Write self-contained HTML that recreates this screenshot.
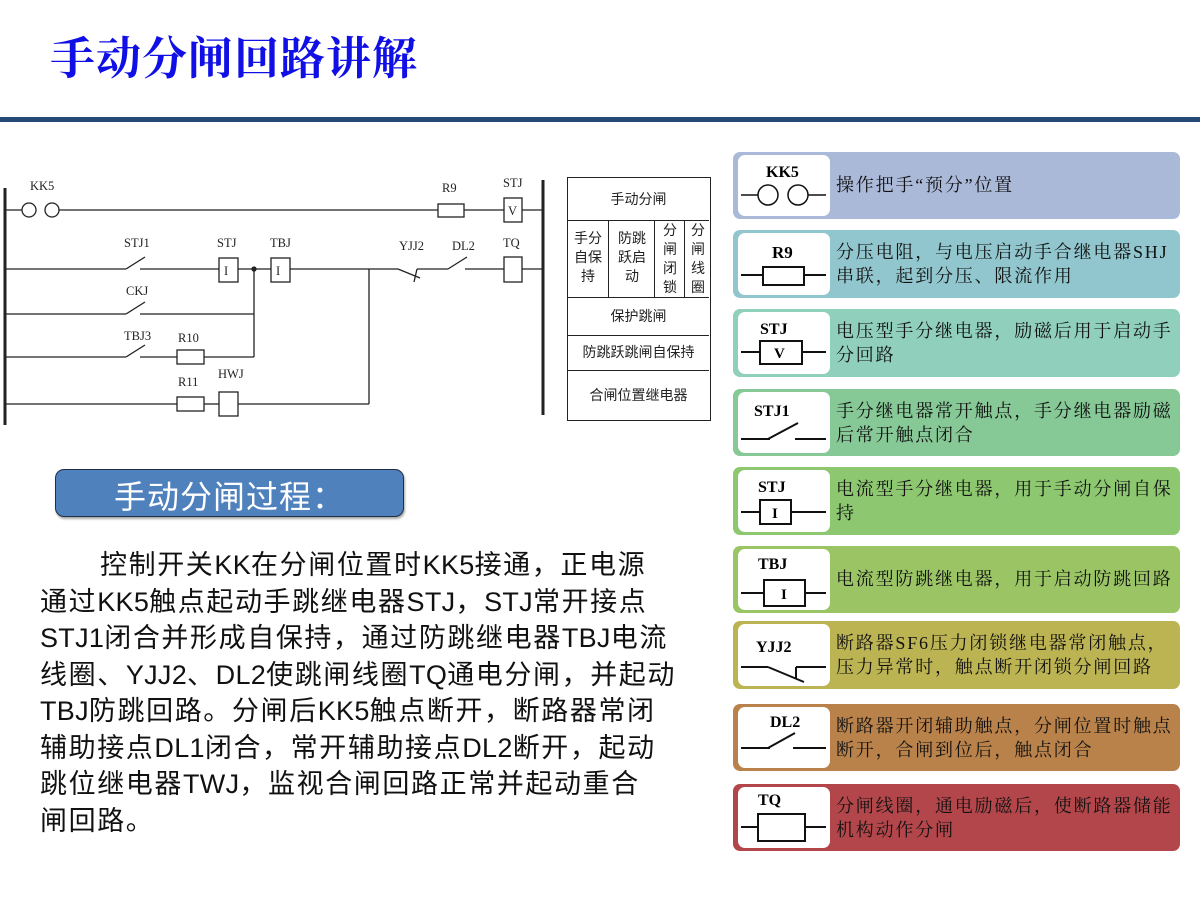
<!DOCTYPE html>
<html><head><meta charset="utf-8">
<style>
body{margin:0;width:1200px;height:900px;background:#fff;position:relative;overflow:hidden;font-family:"Liberation Sans","Noto Sans CJK SC",sans-serif}
.abs{position:absolute}
.title{left:50px;top:22px;font-family:"Liberation Serif","Noto Serif CJK SC",serif;font-size:45px;font-weight:bold;color:#1010e6;letter-spacing:1px;white-space:nowrap}
.bar{left:0;top:117px;width:1200px;height:5px;background:#254a78}
.btn{left:55px;top:469px;width:347px;height:46px;background:#4f81bd;border:1.5px solid #1f2f4a;border-radius:9px;box-shadow:1px 2px 2px rgba(0,0,0,.35)}
.btn span{position:absolute;left:58px;top:2px;font-size:32px;color:#fff;white-space:nowrap;letter-spacing:1px}
.body{left:40px;top:547px;font-size:27px;letter-spacing:1.6px;line-height:36.5px;color:#111;white-space:nowrap}
.body i{font-style:normal;letter-spacing:0.3px}
.card{position:absolute;left:733px;width:447px;border-radius:7px}
.card .ic{position:absolute;left:5px;top:3px;width:92px;bottom:3px;background:#fff;border-radius:7px}
.card .tx{position:absolute;left:103px;font-size:18px;letter-spacing:1.8px;line-height:24px;color:#111;white-space:nowrap;font-family:"Liberation Serif","Noto Serif CJK SC",serif}
.tbl{left:567px;top:177px;width:144px;height:244px;border:1.5px solid #222;box-sizing:border-box;font-size:14px;color:#222}
.tbl div{position:absolute;text-align:center}
</style></head><body>
<div class="abs title">手动分闸回路讲解</div>
<div class="abs bar"></div>

<svg class="abs" style="left:0;top:160px" width="560" height="270" viewBox="0 160 560 270">
<g stroke="#222" stroke-width="1.3" fill="none">
<line x1="5" y1="188" x2="5" y2="425" stroke-width="3"/>
<line x1="543" y1="180" x2="543" y2="415" stroke-width="3"/>
<line x1="5" y1="210" x2="22" y2="210"/><circle cx="29" cy="210" r="7"/><circle cx="52" cy="210" r="7"/>
<line x1="59" y1="210" x2="438" y2="210"/><rect x="438" y="204" width="26" height="13"/>
<line x1="464" y1="210" x2="504" y2="210"/><rect x="504" y="198" width="18" height="24"/><line x1="522" y1="210" x2="543" y2="210"/>
<line x1="5" y1="269" x2="126" y2="269"/><line x1="126" y1="269" x2="145" y2="257"/><line x1="140" y1="269" x2="161" y2="269"/>
<line x1="161" y1="269" x2="219" y2="269"/><rect x="219" y="258" width="19" height="24"/>
<line x1="238" y1="269" x2="271" y2="269"/><rect x="271" y="258" width="19" height="24"/>
<line x1="290" y1="269" x2="398" y2="269"/><line x1="398" y1="269" x2="420" y2="278"/><line x1="417" y1="269" x2="414" y2="282"/>
<line x1="417" y1="269" x2="448" y2="269"/><line x1="448" y1="269" x2="467" y2="257"/><line x1="465" y1="269" x2="485" y2="269"/>
<line x1="485" y1="269" x2="504" y2="269"/><rect x="504" y="257" width="18" height="25"/><line x1="522" y1="269" x2="543" y2="269"/>
<circle cx="254" cy="269" r="2" fill="#222"/>
<line x1="254" y1="269" x2="254" y2="357"/>
<line x1="369" y1="269" x2="369" y2="404"/>
<line x1="5" y1="314" x2="126" y2="314"/><line x1="126" y1="314" x2="145" y2="302"/><line x1="140" y1="314" x2="254" y2="314"/>
<line x1="5" y1="357" x2="126" y2="357"/><line x1="126" y1="357" x2="145" y2="345"/><line x1="140" y1="357" x2="177" y2="357"/>
<rect x="177" y="350" width="27" height="14"/><line x1="204" y1="357" x2="254" y2="357"/>
<line x1="5" y1="404" x2="177" y2="404"/><rect x="177" y="397" width="27" height="14"/><line x1="204" y1="404" x2="219" y2="404"/>
<rect x="219" y="392" width="19" height="24"/><line x1="238" y1="404" x2="369" y2="404"/>
</g>
<g font-family="Liberation Serif,serif" font-size="12.5" fill="#222">
<text x="30" y="190">KK5</text><text x="442" y="192">R9</text><text x="503" y="187">STJ</text>
<text x="124" y="247">STJ1</text><text x="217" y="247">STJ</text><text x="270" y="247">TBJ</text>
<text x="399" y="250">YJJ2</text><text x="452" y="250">DL2</text><text x="503" y="247">TQ</text>
<text x="126" y="295">CKJ</text><text x="124" y="340">TBJ3</text><text x="178" y="342">R10</text>
<text x="178" y="386">R11</text><text x="218" y="378">HWJ</text>
<text x="224" y="275">I</text><text x="276" y="275">I</text><text x="508" y="215">V</text>
</g>
</svg>

<div class="abs tbl">
<div style="left:0;top:0;width:141px;height:42px;line-height:42px;border-bottom:1.5px solid #222">手动分闸</div>
<div style="left:0;top:43px;width:41px;height:76px;border-right:1.5px solid #222;line-height:19px;padding-top:8px;box-sizing:border-box">手分<br>自保<br>持</div>
<div style="left:42px;top:43px;width:45px;height:76px;border-right:1.5px solid #222;line-height:19px;padding-top:8px;box-sizing:border-box">防跳<br>跃启<br>动</div>
<div style="left:88px;top:43px;width:29px;height:76px;border-right:1.5px solid #222;line-height:19px;box-sizing:border-box">分<br>闸<br>闭<br>锁</div>
<div style="left:118px;top:43px;width:24px;height:76px;line-height:19px">分<br>闸<br>线<br>圈</div>
<div style="left:0;top:119px;width:141px;height:37px;line-height:37px;border-top:1.5px solid #222;border-bottom:1.5px solid #222">保护跳闸</div>
<div style="left:0;top:157px;width:141px;height:35px;line-height:35px;border-bottom:1.5px solid #222">防跳跃跳闸自保持</div>
<div style="left:0;top:193px;width:141px;height:49px;line-height:49px">合闸位置继电器</div>
</div>

<div class="abs btn"><span>手动分闸过程：</span></div>
<div class="abs body"><span style="padding-left:60px"></span>控制开关<i>KK</i>在分闸位置时<i>KK5</i>接通，正电源<br>通过<i>KK5</i>触点起动手跳继电器<i>STJ</i>，<i>STJ</i>常开接点<br><i>STJ1</i>闭合并形成自保持，通过防跳继电器<i>TBJ</i>电流<br>线圈、<i>YJJ2</i>、<i>DL2</i>使跳闸线圈<i>TQ</i>通电分闸，并起动<br><i>TBJ</i>防跳回路。分闸后<i>KK5</i>触点断开，断路器常闭<br>辅助接点<i>DL1</i>闭合，常开辅助接点<i>DL2</i>断开，起动<br>跳位继电器<i>TWJ</i>，监视合闸回路正常并起动重合<br>闸回路。</div>

<div class="card" style="top:152px;height:67px;background:#abb9d9"><div class="ic"><svg width="92" height="61"><text x="28" y="22" font-family="Liberation Serif,serif" font-weight="bold" font-size="16">KK5</text><g stroke="#111" stroke-width="1.5" fill="none"><line x1="3" y1="40" x2="20" y2="40"/><circle cx="30" cy="40" r="10"/><circle cx="60" cy="40" r="10"/><line x1="70" y1="40" x2="88" y2="40"/></g></svg></div><div class="tx" style="top:21px">操作把手“预分”位置</div></div>

<div class="card" style="top:230px;height:68px;background:#92c6ce"><div class="ic"><svg width="92" height="62"><text x="34" y="25" font-family="Liberation Serif,serif" font-weight="bold" font-size="17">R9</text><g stroke="#111" stroke-width="2" fill="none"><line x1="3" y1="42" x2="25" y2="42"/><rect x="25" y="34" width="41" height="18"/><line x1="66" y1="42" x2="88" y2="42"/></g></svg></div><div class="tx" style="top:10px">分压电阻，与电压启动手合继电器SHJ<br>串联，起到分压、限流作用</div></div>

<div class="card" style="top:309px;height:68px;background:#90cfbb"><div class="ic"><svg width="92" height="62"><text x="22" y="22" font-family="Liberation Serif,serif" font-weight="bold" font-size="16">STJ</text><g stroke="#111" stroke-width="2" fill="none"><line x1="3" y1="40" x2="22" y2="40"/><rect x="22" y="29" width="42" height="23"/><line x1="64" y1="40" x2="88" y2="40"/></g><text x="36" y="46" font-family="Liberation Serif,serif" font-weight="bold" font-size="15">V</text></svg></div><div class="tx" style="top:10px">电压型手分继电器，励磁后用于启动手<br>分回路</div></div>

<div class="card" style="top:389px;height:67px;background:#86c896"><div class="ic"><svg width="92" height="61"><text x="16" y="24" font-family="Liberation Serif,serif" font-weight="bold" font-size="16">STJ1</text><g stroke="#111" stroke-width="2" fill="none"><line x1="3" y1="47" x2="32" y2="47"/><line x1="30" y1="47" x2="60" y2="31"/><line x1="57" y1="47" x2="88" y2="47"/></g></svg></div><div class="tx" style="top:10px">手分继电器常开触点，手分继电器励磁<br>后常开触点闭合</div></div>

<div class="card" style="top:467px;height:68px;background:#8dc871"><div class="ic"><svg width="92" height="62"><text x="20" y="22" font-family="Liberation Serif,serif" font-weight="bold" font-size="16">STJ</text><g stroke="#111" stroke-width="2" fill="none"><line x1="3" y1="42" x2="22" y2="42"/><rect x="22" y="30" width="31" height="24"/><line x1="53" y1="42" x2="88" y2="42"/></g><text x="34" y="48" font-family="Liberation Serif,serif" font-weight="bold" font-size="15">I</text></svg></div><div class="tx" style="top:10px">电流型手分继电器，用于手动分闸自保<br>持</div></div>

<div class="card" style="top:546px;height:67px;background:#9bc565"><div class="ic"><svg width="92" height="61"><text x="20" y="20" font-family="Liberation Serif,serif" font-weight="bold" font-size="16">TBJ</text><g stroke="#111" stroke-width="2" fill="none"><line x1="3" y1="44" x2="26" y2="44"/><rect x="26" y="31" width="41" height="26"/><line x1="67" y1="44" x2="88" y2="44"/></g><text x="43" y="50" font-family="Liberation Serif,serif" font-weight="bold" font-size="15">I</text></svg></div><div class="tx" style="top:21px">电流型防跳继电器，用于启动防跳回路</div></div>

<div class="card" style="top:621px;height:68px;background:#bcb453"><div class="ic"><svg width="92" height="62"><text x="18" y="28" font-family="Liberation Serif,serif" font-weight="bold" font-size="16">YJJ2</text><g stroke="#111" stroke-width="2" fill="none"><line x1="3" y1="43" x2="30" y2="43"/><line x1="30" y1="43" x2="66" y2="58"/><line x1="58" y1="43" x2="58" y2="55"/><line x1="58" y1="43" x2="88" y2="43"/></g></svg></div><div class="tx" style="top:10px">断路器SF6压力闭锁继电器常闭触点，<br>压力异常时，触点断开闭锁分闸回路</div></div>

<div class="card" style="top:704px;height:67px;background:#b9824a"><div class="ic"><svg width="92" height="61"><text x="32" y="20" font-family="Liberation Serif,serif" font-weight="bold" font-size="16">DL2</text><g stroke="#111" stroke-width="2" fill="none"><line x1="3" y1="41" x2="32" y2="41"/><line x1="30" y1="41" x2="57" y2="26"/><line x1="55" y1="41" x2="88" y2="41"/></g></svg></div><div class="tx" style="top:10px">断路器开闭辅助触点，分闸位置时触点<br>断开，合闸到位后，触点闭合</div></div>

<div class="card" style="top:784px;height:67px;background:#b2464a"><div class="ic"><svg width="92" height="61"><text x="20" y="18" font-family="Liberation Serif,serif" font-weight="bold" font-size="16">TQ</text><g stroke="#111" stroke-width="2" fill="none"><line x1="3" y1="40" x2="20" y2="40"/><rect x="20" y="27" width="47" height="27"/><line x1="67" y1="40" x2="88" y2="40"/></g></svg></div><div class="tx" style="top:10px">分闸线圈，通电励磁后，使断路器储能<br>机构动作分闸</div></div>
</body></html>
